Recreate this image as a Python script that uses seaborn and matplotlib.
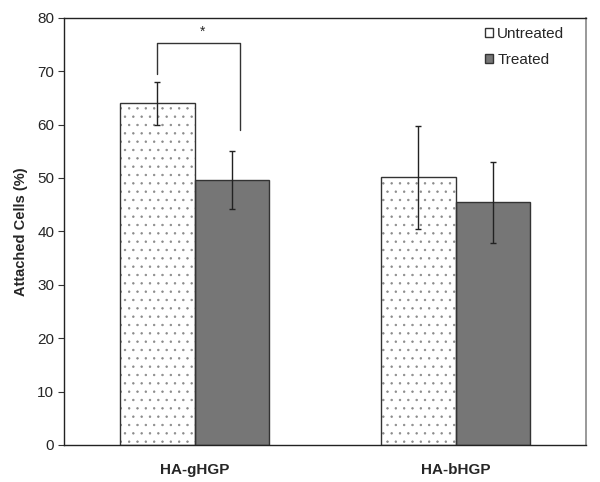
import matplotlib
matplotlib.use("Agg")
import matplotlib.pyplot as plt
import seaborn as sns
import pandas as pd
from matplotlib.patches import Patch, Rectangle

categories = ["HA-gHGP", "HA-bHGP"]
groups = ["Untreated", "Treated"]
untreated = [64.0, 50.1]
treated = [49.6, 45.4]
untreated_err = [4.0, 9.7]
treated_err = [5.5, 7.6]
yticks = [0, 10, 20, 30, 40, 50, 60, 70, 80]

df = pd.DataFrame({
    "cat": categories * 2,
    "grp": [groups[0]] * 2 + [groups[1]] * 2,
    "val": untreated + treated,
})
errs = untreated_err + treated_err

sns.set_style("white")
plt.rcParams["font.family"] = ["Liberation Sans", "DejaVu Sans"]
plt.rcParams["hatch.linewidth"] = 0.5

fig = plt.figure(figsize=(6.0, 4.82), dpi=100)
ax = fig.add_axes([0.1067, 0.0768, 0.87, 0.8865])

sns.barplot(data=df, x="cat", y="val", hue="grp", order=categories,
            hue_order=groups, width=0.57, errorbar=None, ax=ax,
            palette=["white", "#767676"], legend=False, saturation=1)

bars = [p for p in ax.patches]
for i, p in enumerate(bars):
    if i < 2:
        p.set_hatch("..")
        p.set_edgecolor("#8a8a8a")
        p.set_linewidth(0)
        ax.add_patch(Rectangle(p.get_xy(), p.get_width(), p.get_height(),
                               fill=False, edgecolor="#333333", lw=1.0, zorder=p.get_zorder()))
    else:
        p.set_edgecolor("#333333")
        p.set_linewidth(1.0)
    xc = p.get_x() + p.get_width() / 2
    ax.errorbar(xc, p.get_height(), yerr=errs[i], fmt="none", ecolor="#222222",
                elinewidth=1.0, capsize=2.5, capthick=1.0, zorder=5)

# significance bracket
x1 = bars[0].get_x() + bars[0].get_width() / 2
x2 = bars[2].get_x() + bars[2].get_width() / 2
ax.plot([x1, x1, x2 + 0.03, x2 + 0.03], [69.5, 75.3, 75.3, 59.0], color="#333333", lw=1.0)
ax.text((x1 + x2) / 2 + 0.03, 77.3, "*", ha="center", va="center", fontsize=10)

ax.set_ylim(0, 80)
ax.set_xlim(-0.5, 1.5)
ax.set_yticks(yticks)
ax.set_yticklabels([str(t) for t in yticks], fontsize=11)
ax.set_xticks([0, 1])
ax.set_xticklabels(categories, fontsize=11, fontweight="bold")
ax.set_xticks([-0.5, 0.5, 1.5], minor=True)
ax.tick_params(axis="x", which="major", length=0, pad=13)
ax.tick_params(axis="x", which="minor", length=4, direction="out", color="#333333")
ax.tick_params(axis="y", length=4, direction="out", color="#333333", pad=3, left=True)
ax.set_xlabel("")
ax.set_ylabel("Attached Cells (%)", fontsize=10.5, fontweight="bold", labelpad=7)

for s in ["left", "bottom", "top"]:
    ax.spines[s].set_color("#222222")
    ax.spines[s].set_linewidth(1.0)
ax.spines["right"].set_color("#888888")
ax.spines["right"].set_linewidth(1.2)

handles = [Patch(facecolor="white", edgecolor="#333333", lw=1.0, label=groups[0]),
           Patch(facecolor="#767676", edgecolor="#333333", lw=1.0, label=groups[1])]
ax.legend(handles=handles, loc="upper right", bbox_to_anchor=(0.985, 1.01),
          frameon=False, fontsize=11, handlelength=0.55, handleheight=0.55,
          handletextpad=0.25, labelspacing=0.75)

fig.savefig("out.png", dpi=100)
